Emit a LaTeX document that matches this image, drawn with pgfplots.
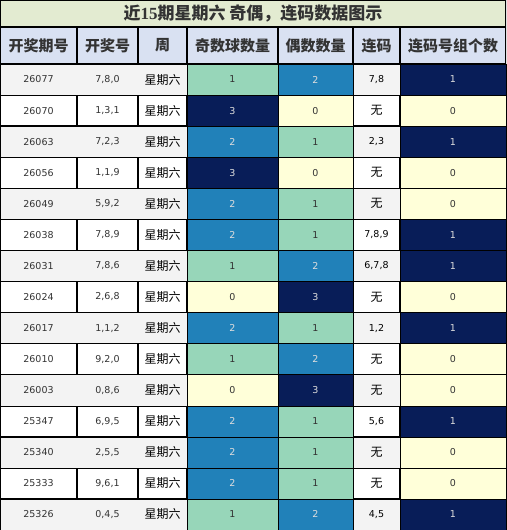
\documentclass[border=0pt]{standalone}
\usepackage{fontspec}
\setmainfont{DejaVu Sans}
\newfontfamily\cjk{Noto Sans CJK SC}
\newfontfamily\lserif{Liberation Serif}
\usepackage{pgfplots}
\usepackage{pgfplotstable}
\pgfplotsset{compat=1.18}
\definecolor{titlebg}{HTML}{E3EBD1}
\definecolor{headbg}{HTML}{D9E1F2}
\definecolor{stripe}{HTML}{F3F3F3}
\definecolor{c0}{HTML}{FFFFD9}
\definecolor{c1}{HTML}{97D6B9}
\definecolor{c2}{HTML}{2181B9}
\definecolor{c3}{HTML}{081D58}
\definecolor{txtdark}{HTML}{333333}
\definecolor{txtlight}{HTML}{DDDDDD}
\colorlet{tc0}{txtdark}
\colorlet{tc1}{txtdark}
\colorlet{tc2}{txtlight}
\colorlet{tc3}{txtlight}
\colorlet{tk0}{txtdark}
\colorlet{tk1}{txtlight}
\newcommand\numf{\fontsize{9.5}{11}\selectfont}
\newcommand\cjkf{\cjk\fontsize{12}{14}\selectfont}
\protected\def\wu{{\cjk\fontsize{12}{14}\selectfont 无}}
\pgfplotstableread{
y qi hao week odd even lian cnt
79.53 26077 7,8,0 星期六 1 2 7,8 1
110.60 26070 1,3,1 星期六 3 0 \wu{} 0
141.67 26063 7,2,3 星期六 2 1 2,3 1
172.73 26056 1,1,9 星期六 3 0 \wu{} 0
203.80 26049 5,9,2 星期六 2 1 \wu{} 0
234.87 26038 7,8,9 星期六 2 1 7,8,9 1
265.93 26031 7,8,6 星期六 1 2 6,7,8 1
297.00 26024 2,6,8 星期六 0 3 \wu{} 0
328.07 26017 1,1,2 星期六 2 1 1,2 1
359.13 26010 9,2,0 星期六 1 2 \wu{} 0
390.20 26003 0,8,6 星期六 0 3 \wu{} 0
421.27 25347 6,9,5 星期六 2 1 5,6 1
452.33 25340 2,5,5 星期六 2 1 \wu{} 0
483.40 25333 9,6,1 星期六 2 1 \wu{} 0
514.47 25326 0,4,5 星期六 1 2 4,5 1
}\data
\begin{document}
\begin{tikzpicture}
\begin{axis}[
  width=506pt, height=530pt, scale only axis,
  xmin=0, xmax=506, ymin=0, ymax=530, y dir=reverse,
  hide axis, clip=true,
  point meta min=0, point meta max=3,
  colormap={yg}{color=(c0) color=(c1) color=(c2) color=(c3)},
  every node near coord/.append style={anchor=center, inner sep=0pt},
]
% header background
\addplot[draw=none, fill=headbg] coordinates {(0,27) (506,27) (506,64) (0,64)} -- cycle;
% stripes
\addplot[only marks, mark=square*, mark size=15.533pt, each nth point=2,
  mark options={xscale=16.288, fill=stripe, draw=none}] table[x expr=253, y=y] {\data};
% coloured cells
\addplot[scatter, only marks, mark=square*, mark size=15.533pt, point meta=explicit,
  scatter/use mapped color={draw=none, fill=mapped color},
  mark options={xscale=2.929}] table[x expr=232.5, y=y, meta=odd] {\data};
\addplot[scatter, only marks, mark=square*, mark size=15.533pt, point meta=explicit,
  scatter/use mapped color={draw=none, fill=mapped color},
  mark options={xscale=2.414}] table[x expr=315.5, y=y, meta=even] {\data};
\addplot[scatter, only marks, mark=square*, mark size=15.533pt, point meta={3*\thisrow{cnt}},
  scatter/use mapped color={draw=none, fill=mapped color},
  mark options={xscale=3.412}] table[x expr=453, y=y] {\data};
% vertical lines
\addplot[ycomb, draw=black, line width=1.3pt] coordinates {(77,530) (138,530) (187,530) (278,530) (353,530) (400,530)};
% title background
\addplot[draw=none, fill=titlebg] coordinates {(0,0) (506,0) (506,27) (0,27)} -- cycle;
% horizontal lines
\addplot[xcomb, draw=black, line width=1.3pt] coordinates {(506,27) (506,64) (506,95.07) (506,126.13) (506,157.2) (506,188.27) (506,219.33) (506,250.4) (506,281.47) (506,312.53) (506,343.6) (506,374.67) (506,405.73) (506,436.8) (506,467.87) (506,498.93)};
% outer border
\addplot[ycomb, draw=black, line width=2.8pt] coordinates {(0,530) (506,530)};
\addplot[xcomb, draw=black, line width=2.8pt] coordinates {(506,0) (506,530)};
% texts
\addplot[draw=none, nodes near coords, point meta=explicit symbolic,
  every node near coord/.append style={font=\numf, text=txtdark}] table[x expr=38.5, y=y, meta=qi] {\data};
\addplot[draw=none, nodes near coords, point meta=explicit symbolic,
  every node near coord/.append style={font=\numf, text=txtdark}] table[x expr=107.5, y=y, meta=hao] {\data};
\addplot[draw=none, nodes near coords, point meta=explicit symbolic,
  every node near coord/.append style={font=\cjkf, text=black}] table[x expr=162.5, y=y, meta=week] {\data};
\addplot[draw=none, point meta=explicit symbolic,
  nodes near coords={\color{tc\pgfplotspointmeta}\pgfplotspointmeta},
  every node near coord/.append style={font=\numf}] table[x expr=232.5, y=y, meta=odd] {\data};
\addplot[draw=none, point meta=explicit symbolic,
  nodes near coords={\color{tc\pgfplotspointmeta}\pgfplotspointmeta},
  every node near coord/.append style={font=\numf}] table[x expr=315.5, y=y, meta=even] {\data};
\addplot[draw=none, nodes near coords, point meta=explicit symbolic,
  every node near coord/.append style={font=\numf, text=black}] table[x expr=376.5, y=y, meta=lian] {\data};
\addplot[draw=none, point meta=explicit symbolic,
  nodes near coords={\color{tk\pgfplotspointmeta}\pgfplotspointmeta},
  every node near coord/.append style={font=\numf}] table[x expr=453, y=y, meta=cnt] {\data};
% title and header
\node[font=\cjk\bfseries\fontsize{17}{20}\selectfont, text=txtdark] at (axis cs:253,14) {近{\lserif\bfseries 15}期星期六 奇偶，连码数据图示};
\begin{scope}[every node/.style={font=\cjk\bfseries\fontsize{15}{18}\selectfont, text=txtdark}]
\node at (axis cs:38.5,45.5) {开奖期号};
\node at (axis cs:107.5,45.5) {开奖号};
\node at (axis cs:162.5,45.5) {周};
\node at (axis cs:232.5,45.5) {奇数球数量};
\node at (axis cs:315.5,45.5) {偶数数量};
\node at (axis cs:376.5,45.5) {连码};
\node at (axis cs:453,45.5) {连码号组个数};
\end{scope}
\end{axis}
\end{tikzpicture}
\end{document}
